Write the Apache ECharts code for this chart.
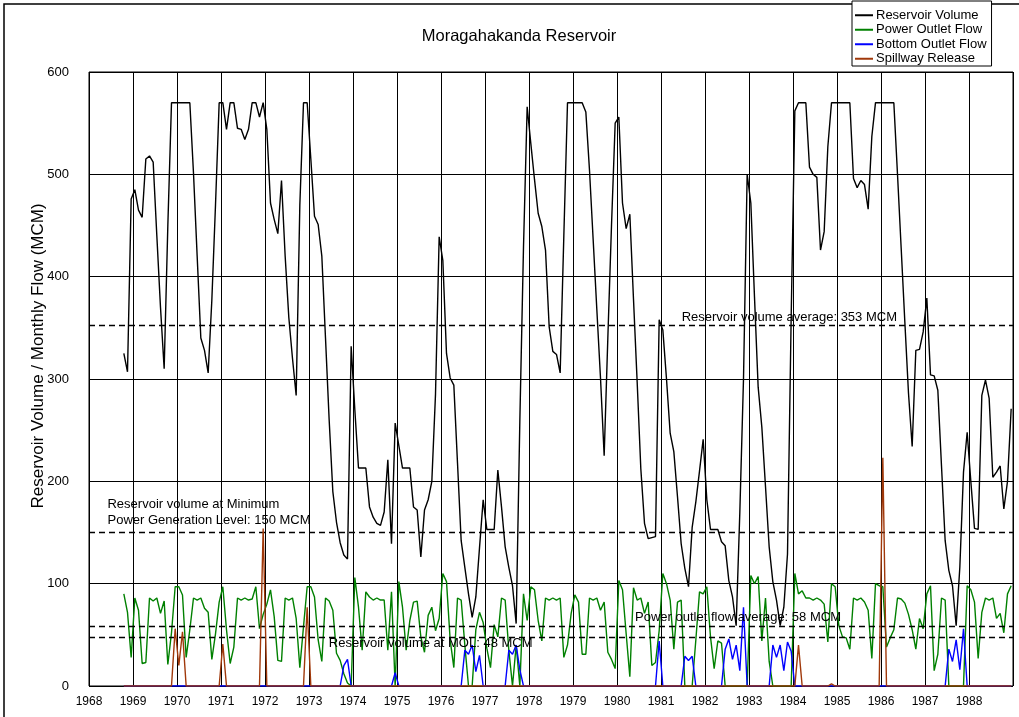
<!DOCTYPE html>
<html>
<head>
<meta charset="utf-8">
<script src="https://cdn.jsdelivr.net/npm/echarts/dist/echarts.min.js"></script>
<style>
  html, body { margin: 0; padding: 0; background: #fff; }
  #chart { width: 1019px; height: 717px; }
</style>
</head>
<body>
<div id="chart"></div>
<script>
// Monthly record starts in October 1968; one value per month.
const START_YEAR = 1968;
const START_MONTH = 10;

// Reservoir volume (MCM), one row per calendar year
const reservoirVolume = [
  325, 307, 476,
  485, 465, 458, 515, 518, 512, 440, 370, 310, 450, 570, 570,
  570, 570, 570, 570, 501, 420, 340, 328, 306, 377, 470, 570,
  570, 544, 570, 570, 545, 544, 534, 544, 570, 570, 556, 570,
  544, 472, 456, 442, 494, 420, 360, 320, 284, 470, 570, 570,
  515, 459, 451, 420, 340, 260, 190, 160, 140, 128, 124, 332,
  270, 213, 213, 213, 175, 165, 159, 157, 170, 221, 139, 257,
  235, 213, 213, 213, 175, 172, 126, 172, 182, 200, 285, 439,
  416, 325, 301, 294, 218, 142, 116, 90, 67, 87, 135, 182,
  153, 153, 153, 211, 175, 136, 116, 98, 61, 259, 429, 566,
  530, 495, 462, 449, 426, 351, 327, 324, 306, 440, 570, 570,
  570, 570, 570, 561, 504, 436, 368, 301, 225, 340, 450, 550,
  556, 472, 447, 461, 378, 297, 212, 159, 144, 145, 146, 358,
  348, 300, 247, 229, 185, 139, 115, 97, 155, 180, 210, 241,
  182, 153, 153, 153, 141, 137, 103, 87, 59, 170, 300, 500,
  472, 380, 292, 253, 195, 136, 102, 84, 59, 77, 129, 360,
  562, 570, 570, 570, 507, 500, 497, 426, 444, 527, 570, 570,
  570, 570, 570, 570, 496, 487, 494, 490, 466, 537, 570, 570,
  570, 570, 570, 570, 500, 428, 356, 286, 234, 328, 329, 346,
  379, 304, 303, 289, 215, 142, 113, 98, 59, 116, 209, 248,
  200, 154, 153, 284, 299, 281, 204, 209, 215, 173, 200, 271
];

// Power outlet flow (MCM/month)
const powerOutletFlow = [
  90, 72, 28,
  86, 74, 22, 23, 86, 83, 86, 71, 83, 21, 52, 97,
  97, 89, 28, 55, 86, 84, 86, 76, 72, 26, 51, 82,
  97, 55, 22, 38, 86, 84, 86, 84, 85, 97, 56, 70,
  80, 94, 68, 25, 24, 86, 84, 86, 66, 18, 58, 97,
  97, 87, 45, 24, 86, 83, 74, 32, 25, 12, 3, 0,
  106, 77, 35, 92, 87, 84, 86, 84, 84, 35, 92, 0,
  102, 77, 35, 64, 82, 83, 48, 33, 69, 77, 54, 66,
  110, 102, 45, 18, 86, 84, 40, 0, 0, 55, 72, 62,
  37, 18, 60, 48, 86, 84, 35, 0, 40, 0, 90, 64,
  97, 94, 64, 44, 86, 84, 86, 84, 86, 28, 40, 71,
  89, 82, 31, 31, 86, 84, 86, 74, 82, 33, 26, 17,
  103, 94, 51, 9, 96, 84, 86, 71, 82, 20, 23, 54,
  110, 100, 84, 36, 82, 84, 0, 0, 0, 45, 92, 90,
  97, 48, 17, 44, 42, 0, 0, 0, 0, 0, 0, 0,
  108, 100, 107, 44, 86, 24, 0, 0, 0, 0, 0, 0,
  110, 90, 93, 86, 86, 84, 86, 84, 80, 43, 100, 97,
  59, 48, 47, 36, 86, 84, 86, 82, 74, 27, 100, 98,
  97, 38, 47, 55, 86, 85, 81, 70, 55, 36, 66, 56,
  90, 98, 15, 31, 86, 84, 0, 0, 0, 0, 0, 98,
  94, 82, 27, 72, 86, 84, 86, 66, 71, 52, 90, 98
];

// Bottom outlet flow (MCM/month)
const bottomOutletFlow = [
  0, 0, 0,
  0, 0, 0, 0, 0, 0, 0, 0, 0, 0, 0, 0,
  0, 0, 0, 0, 0, 0, 0, 0, 0, 0, 0, 0,
  0, 0, 0, 0, 0, 0, 0, 0, 0, 0, 0, 0,
  0, 0, 0, 0, 0, 0, 0, 0, 0, 0, 0, 0,
  0, 0, 0, 0, 0, 0, 0, 0, 0, 20, 26, 0,
  0, 0, 0, 0, 0, 0, 0, 0, 0, 0, 0, 13,
  0, 0, 0, 0, 0, 0, 0, 0, 0, 0, 0, 0,
  0, 0, 0, 0, 0, 0, 35, 31, 40, 14, 30, 0,
  0, 0, 0, 0, 0, 0, 35, 31, 40, 16, 0, 0,
  0, 0, 0, 0, 0, 0, 0, 0, 0, 0, 0, 0,
  0, 0, 0, 0, 0, 0, 0, 0, 0, 0, 0, 0,
  0, 0, 0, 0, 0, 0, 0, 0, 0, 0, 0, 44,
  0, 0, 0, 0, 0, 0, 29, 25, 29, 0, 0, 0,
  0, 0, 0, 0, 0, 36, 46, 26, 40, 15, 77, 0,
  0, 0, 0, 0, 0, 0, 40, 28, 40, 15, 43, 34,
  0, 0, 0, 0, 0, 0, 0, 0, 0, 0, 0, 0,
  0, 0, 0, 0, 0, 0, 0, 0, 0, 0, 0, 0,
  0, 0, 0, 0, 0, 0, 0, 0, 0, 0, 0, 0,
  0, 0, 0, 0, 0, 0, 36, 24, 45, 16, 56, 0,
  0, 0, 0, 0, 0, 0, 0, 0, 0, 0, 0, 0
];

// Spillway release (MCM/month)
const spillwayRelease = [
  0, 0, 0,
  0, 0, 0, 0, 0, 0, 0, 0, 0, 0, 0, 56,
  20, 53, 0, 0, 0, 0, 0, 0, 0, 0, 0, 0,
  41, 0, 0, 0, 0, 0, 0, 0, 0, 0, 0, 154,
  0, 0, 0, 0, 0, 0, 0, 0, 0, 0, 0, 77,
  0, 0, 0, 0, 0, 0, 0, 0, 0, 0, 0, 0,
  0, 0, 0, 0, 0, 0, 0, 0, 0, 0, 0, 0,
  0, 0, 0, 0, 0, 0, 0, 0, 0, 0, 0, 0,
  0, 0, 0, 0, 0, 0, 0, 0, 0, 0, 0, 0,
  0, 0, 0, 0, 0, 0, 0, 0, 0, 0, 0, 0,
  0, 0, 0, 0, 0, 0, 0, 0, 0, 0, 0, 0,
  0, 0, 0, 0, 0, 0, 0, 0, 0, 0, 0, 0,
  0, 0, 0, 0, 0, 0, 0, 0, 0, 0, 0, 0,
  0, 0, 0, 0, 0, 0, 0, 0, 0, 0, 0, 0,
  0, 0, 0, 0, 0, 0, 0, 0, 0, 0, 0, 0,
  0, 0, 0, 0, 0, 0, 0, 0, 0, 0, 0, 0,
  0, 40, 0, 0, 0, 0, 0, 0, 0, 0, 2, 0,
  0, 0, 0, 0, 0, 0, 0, 0, 0, 0, 0, 0,
  223, 0, 0, 0, 0, 0, 0, 0, 0, 0, 0, 0,
  0, 0, 0, 0, 0, 0, 0, 0, 0, 0, 0, 0,
  0, 0, 0, 0, 0, 0, 0, 0, 0, 0, 0, 0
];

// Reference levels (MCM)
const volumeAverage = 353;
const minPowerLevel = 150;
const powerFlowAverage = 58;
const molVolume = 48;

const seriesNames = ['Reservoir Volume', 'Power Outlet Flow', 'Bottom Outlet Flow', 'Spillway Release'];
const seriesColors = ['#000000', '#008000', '#0000ff', '#a0380a'];

const FONT = '"Liberation Sans", Arial, sans-serif';

// decimal year at the middle of the i-th month of the record
function monthTime(i) {
  const m = START_MONTH - 1 + i;
  return START_YEAR + Math.floor(m / 12) + ((m % 12) + 0.5) / 12;
}
function toPoints(values) {
  return values.map((v, i) => [monthTime(i), v]);
}

const dashed = { color: '#000', width: 1.3, type: [6, 4] };

const chart = echarts.init(document.getElementById('chart'), null, { renderer: 'canvas' });

const option = {
  animation: false,
  backgroundColor: '#fff',
  title: {
    text: 'Moragahakanda Reservoir',
    left: 514, top: 23,
    textAlign: 'center',
    textStyle: { fontFamily: FONT, fontSize: 16.5, fontWeight: 'normal', color: '#000' }
  },
  legend: {
    orient: 'vertical',
    left: 852, top: 1,
    icon: 'rect',
    itemWidth: 18, itemHeight: 2,
    itemGap: 0,
    padding: [7, 5, 0, 3],
    borderColor: '#000', borderWidth: 1,
    backgroundColor: '#fff',
    textStyle: { fontFamily: FONT, fontSize: 13, lineHeight: 14.5, color: '#000', padding: [0, 0, 0, -2] },
    data: seriesNames
  },
  grid: {
    left: 89, right: 6, top: 72, bottom: 31,
    show: true, borderColor: '#000', borderWidth: 1
  },
  xAxis: {
    type: 'value', min: 1968, max: 1989, interval: 1,
    axisLine: { show: false },
    axisTick: { show: false },
    axisLabel: {
      showMaxLabel: false, margin: 10,
      fontFamily: FONT, fontSize: 12, color: '#000',
      formatter: v => (Number.isInteger(v) && v < 1989) ? String(v) : ''
    },
    splitLine: { show: true, lineStyle: { color: '#000', width: 1 } }
  },
  yAxis: {
    type: 'value', min: 0, max: 600, interval: 100,
    axisLine: { show: false },
    axisTick: { show: false },
    axisLabel: { margin: 20, fontFamily: FONT, fontSize: 13, color: '#000' },
    splitLine: { show: true, lineStyle: { color: '#000', width: 1 } }
  },
  series: [
    {
      name: seriesNames[0], type: 'line', data: toPoints(reservoirVolume),
      showSymbol: false, color: seriesColors[0], lineStyle: { width: 1.4 }, z: 3,
      markLine: {
        silent: true, symbol: 'none', label: { show: false },
        lineStyle: dashed,
        data: [{ yAxis: volumeAverage }, { yAxis: minPowerLevel }, { yAxis: powerFlowAverage }, { yAxis: molVolume }]
      }
    },
    { name: seriesNames[1], type: 'line', data: toPoints(powerOutletFlow), showSymbol: false, color: seriesColors[1], lineStyle: { width: 1.4 }, z: 4 },
    { name: seriesNames[2], type: 'line', data: toPoints(bottomOutletFlow), showSymbol: false, color: seriesColors[2], lineStyle: { width: 1.4 }, z: 5 },
    { name: seriesNames[3], type: 'line', data: toPoints(spillwayRelease), showSymbol: false, color: seriesColors[3], lineStyle: { width: 1.4 }, z: 6 }
  ]
};
chart.setOption(option);

// Annotations next to the reference levels, plus axis name and outer frame
function px(x, y) { return chart.convertToPixel({ gridIndex: 0 }, [x, y]); }
const noteStyle = { fontFamily: FONT, fontSize: 13, fill: '#000' };
function note(text, x, y) {
  return { type: 'text', x: x, y: y, z: 50,
    style: Object.assign({ text: text, textAlign: 'left', textVerticalAlign: 'middle' }, noteStyle) };
}
const pAvg = px(1981.47, volumeAverage);
const pMin = px(1968.42, minPowerLevel);
const pFlow = px(1980.41, powerFlowAverage);
const pMol = px(1973.45, molVolume);
chart.setOption({
  graphic: [
    { type: 'rect', shape: { x: 4, y: 4, width: 1040, height: 1040 }, style: { fill: 'none', stroke: '#000', lineWidth: 1.5 }, z: 0, silent: true },
    note('Reservoir volume average: 353 MCM', pAvg[0], pAvg[1] - 7),
    note('Reservoir volume at Minimum', pMin[0], pMin[1] - 28),
    note('Power Generation Level: 150 MCM', pMin[0], pMin[1] - 12),
    note('Power outlet flow average: 58 MCM', pFlow[0], pFlow[1] - 9),
    note('Reservoir volume at MOL: 48 MCM', pMol[0], pMol[1] + 7),
    {
      type: 'text', x: 38, y: 356, rotation: Math.PI / 2, z: 50,
      style: { text: 'Reservoir Volume / Monthly Flow (MCM)', textAlign: 'center', textVerticalAlign: 'middle',
        fontFamily: FONT, fontSize: 17, fill: '#000' }
    }
  ]
});
</script>
</body>
</html>
